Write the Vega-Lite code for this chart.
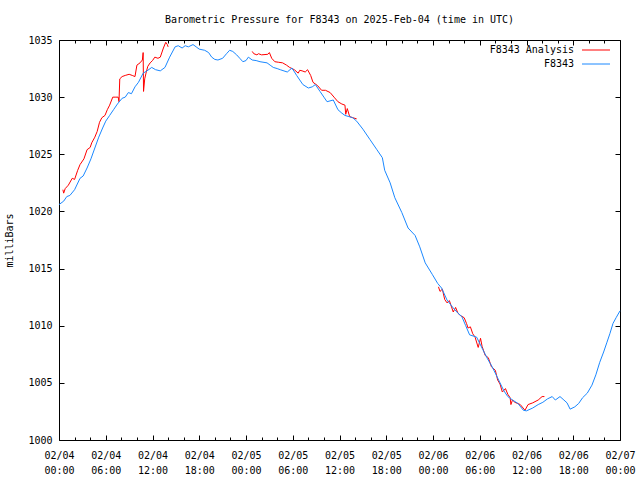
{
"$schema": "https://vega.github.io/schema/vega-lite/v6.json",
"width": 561, "height": 400,
"autosize": "none",
"padding": {"left": 59, "top": 40, "right": 20, "bottom": 40},
"background": "white",
"title": {"text": "Barometric Pressure for F8343 on 2025-Feb-04 (time in UTC)", "font": "DejaVu Sans Mono", "fontSize": 10, "fontWeight": "normal", "color": "black", "offset": 10, "anchor": "middle"},
"config": {
  "view": {"stroke": "black", "strokeWidth": 1},
  "font": "DejaVu Sans Mono",
  "axis": {"domain": false, "grid": false, "labelFont": "DejaVu Sans Mono", "labelFontSize": 10, "labelColor": "black", "tickColor": "black", "titleFont": "DejaVu Sans Mono", "titleFontWeight": "normal", "titleFontSize": 10, "titleColor": "black", "labelFlush": false, "labelOverlap": false},
  "legend": {"labelFont": "DejaVu Sans Mono", "labelFontSize": 10, "labelColor": "black"}
},
"datasets": {
"pts": [
{"s":"F8343","g":"b","h":0,"p":1020.6},{"s":"F8343","g":"b","h":0.6,"p":1020.9},{"s":"F8343","g":"b","h":1.0,"p":1021.3},{"s":"F8343","g":"b","h":1.4,"p":1021.4},{"s":"F8343","g":"b","h":2.0,"p":1021.9},{"s":"F8343","g":"b","h":2.7,"p":1022.9},{"s":"F8343","g":"b","h":3.1,"p":1023.1},{"s":"F8343","g":"b","h":3.6,"p":1023.8},{"s":"F8343","g":"b","h":4.1,"p":1024.6},{"s":"F8343","g":"b","h":4.6,"p":1025.55},{"s":"F8343","g":"b","h":5.1,"p":1026.5},{"s":"F8343","g":"b","h":5.6,"p":1027.3},{"s":"F8343","g":"b","h":6.0,"p":1027.9},{"s":"F8343","g":"b","h":6.5,"p":1028.4},{"s":"F8343","g":"b","h":7.0,"p":1028.9},{"s":"F8343","g":"b","h":7.5,"p":1029.4},{"s":"F8343","g":"b","h":8.1,"p":1029.9},{"s":"F8343","g":"b","h":8.5,"p":1030.0},{"s":"F8343","g":"b","h":8.9,"p":1030.4},{"s":"F8343","g":"b","h":9.3,"p":1030.3},{"s":"F8343","g":"b","h":9.75,"p":1030.9},{"s":"F8343","g":"b","h":10.2,"p":1031.3},{"s":"F8343","g":"b","h":10.8,"p":1032.1},{"s":"F8343","g":"b","h":11.3,"p":1032.3},{"s":"F8343","g":"b","h":11.9,"p":1032.6},{"s":"F8343","g":"b","h":12.4,"p":1032.4},{"s":"F8343","g":"b","h":13.0,"p":1032.3},{"s":"F8343","g":"b","h":13.6,"p":1032.6},{"s":"F8343","g":"b","h":14.2,"p":1033.5},{"s":"F8343","g":"b","h":14.9,"p":1034.4},{"s":"F8343","g":"b","h":15.3,"p":1034.5},{"s":"F8343","g":"b","h":15.8,"p":1034.3},{"s":"F8343","g":"b","h":16.2,"p":1034.5},{"s":"F8343","g":"b","h":16.6,"p":1034.4},{"s":"F8343","g":"b","h":17.2,"p":1034.6},{"s":"F8343","g":"b","h":17.6,"p":1034.4},{"s":"F8343","g":"b","h":18.0,"p":1034.2},{"s":"F8343","g":"b","h":18.7,"p":1034.1},{"s":"F8343","g":"b","h":19.2,"p":1033.9},{"s":"F8343","g":"b","h":19.6,"p":1033.5},{"s":"F8343","g":"b","h":20.0,"p":1033.3},{"s":"F8343","g":"b","h":20.4,"p":1033.25},{"s":"F8343","g":"b","h":21.0,"p":1033.4},{"s":"F8343","g":"b","h":21.5,"p":1033.8},{"s":"F8343","g":"b","h":21.9,"p":1034.1},{"s":"F8343","g":"b","h":22.3,"p":1034.0},{"s":"F8343","g":"b","h":22.8,"p":1033.7},{"s":"F8343","g":"b","h":23.2,"p":1033.4},{"s":"F8343","g":"b","h":23.6,"p":1033.1},{"s":"F8343","g":"b","h":24.0,"p":1033.2},{"s":"F8343","g":"b","h":24.3,"p":1033.5},{"s":"F8343","g":"b","h":24.8,"p":1033.25},{"s":"F8343","g":"b","h":25.3,"p":1033.2},{"s":"F8343","g":"b","h":25.8,"p":1033.1},{"s":"F8343","g":"b","h":26.7,"p":1033.0},{"s":"F8343","g":"b","h":27.1,"p":1032.8},{"s":"F8343","g":"b","h":27.5,"p":1032.6},{"s":"F8343","g":"b","h":28.0,"p":1032.5},{"s":"F8343","g":"b","h":28.4,"p":1032.4},{"s":"F8343","g":"b","h":29.3,"p":1032.2},{"s":"F8343","g":"b","h":29.9,"p":1032.55},{"s":"F8343","g":"b","h":30.5,"p":1031.9},{"s":"F8343","g":"b","h":30.9,"p":1031.5},{"s":"F8343","g":"b","h":31.3,"p":1031.1},{"s":"F8343","g":"b","h":32.0,"p":1030.8},{"s":"F8343","g":"b","h":32.5,"p":1030.9},{"s":"F8343","g":"b","h":32.9,"p":1031.1},{"s":"F8343","g":"b","h":33.5,"p":1030.5},{"s":"F8343","g":"b","h":34.0,"p":1030.0},{"s":"F8343","g":"b","h":34.4,"p":1029.6},{"s":"F8343","g":"b","h":35.2,"p":1029.75},{"s":"F8343","g":"b","h":35.8,"p":1028.9},{"s":"F8343","g":"b","h":36.3,"p":1028.6},{"s":"F8343","g":"b","h":36.7,"p":1028.4},{"s":"F8343","g":"b","h":37.2,"p":1028.3},{"s":"F8343","g":"b","h":37.7,"p":1028.2},{"s":"F8343","g":"b","h":38.2,"p":1027.9},{"s":"F8343","g":"b","h":39.0,"p":1027.2},{"s":"F8343","g":"b","h":39.9,"p":1026.3},{"s":"F8343","g":"b","h":40.8,"p":1025.4},{"s":"F8343","g":"b","h":41.5,"p":1024.7},{"s":"F8343","g":"b","h":41.8,"p":1023.6},{"s":"F8343","g":"b","h":42.5,"p":1022.5},{"s":"F8343","g":"b","h":43.1,"p":1021.2},{"s":"F8343","g":"b","h":44.0,"p":1019.9},{"s":"F8343","g":"b","h":44.8,"p":1018.55},{"s":"F8343","g":"b","h":45.7,"p":1017.9},{"s":"F8343","g":"b","h":46.3,"p":1016.9},{"s":"F8343","g":"b","h":47.0,"p":1015.5},{"s":"F8343","g":"b","h":47.9,"p":1014.5},{"s":"F8343","g":"b","h":48.6,"p":1013.7},{"s":"F8343","g":"b","h":49.1,"p":1013.3},{"s":"F8343","g":"b","h":49.8,"p":1012.25},{"s":"F8343","g":"b","h":50.6,"p":1011.55},{"s":"F8343","g":"b","h":51.2,"p":1011.1},{"s":"F8343","g":"b","h":51.7,"p":1010.8},{"s":"F8343","g":"b","h":52.2,"p":1010.0},{"s":"F8343","g":"b","h":52.7,"p":1009.2},{"s":"F8343","g":"b","h":53.6,"p":1009.0},{"s":"F8343","g":"b","h":54.4,"p":1007.9},{"s":"F8343","g":"b","h":55.0,"p":1007.1},{"s":"F8343","g":"b","h":55.6,"p":1006.4},{"s":"F8343","g":"b","h":56.1,"p":1005.7},{"s":"F8343","g":"b","h":56.6,"p":1005.0},{"s":"F8343","g":"b","h":57.1,"p":1004.3},{"s":"F8343","g":"b","h":57.6,"p":1003.8},{"s":"F8343","g":"b","h":58.2,"p":1003.5},{"s":"F8343","g":"b","h":58.9,"p":1003.2},{"s":"F8343","g":"b","h":59.6,"p":1002.6},{"s":"F8343","g":"b","h":60.0,"p":1002.55},{"s":"F8343","g":"b","h":60.8,"p":1002.8},{"s":"F8343","g":"b","h":61.5,"p":1003.1},{"s":"F8343","g":"b","h":62.1,"p":1003.3},{"s":"F8343","g":"b","h":62.7,"p":1003.6},{"s":"F8343","g":"b","h":63.3,"p":1003.8},{"s":"F8343","g":"b","h":63.7,"p":1003.5},{"s":"F8343","g":"b","h":64.3,"p":1003.8},{"s":"F8343","g":"b","h":64.8,"p":1003.5},{"s":"F8343","g":"b","h":65.2,"p":1003.25},{"s":"F8343","g":"b","h":65.6,"p":1002.7},{"s":"F8343","g":"b","h":66.2,"p":1002.9},{"s":"F8343","g":"b","h":66.7,"p":1003.2},{"s":"F8343","g":"b","h":67.2,"p":1003.7},{"s":"F8343","g":"b","h":67.8,"p":1004.1},{"s":"F8343","g":"b","h":68.4,"p":1004.8},{"s":"F8343","g":"b","h":68.9,"p":1005.7},{"s":"F8343","g":"b","h":69.4,"p":1006.8},{"s":"F8343","g":"b","h":69.9,"p":1007.7},{"s":"F8343","g":"b","h":70.3,"p":1008.5},{"s":"F8343","g":"b","h":70.7,"p":1009.3},{"s":"F8343","g":"b","h":71.1,"p":1010.2},{"s":"F8343","g":"b","h":71.5,"p":1010.7},{"s":"F8343","g":"b","h":72.0,"p":1011.3},
{"s":"F8343 Analysis","g":"r1","h":0.5,"p":1021.9},{"s":"F8343 Analysis","g":"r1","h":0.6,"p":1021.6},{"s":"F8343 Analysis","g":"r1","h":0.8,"p":1022.0},{"s":"F8343 Analysis","g":"r1","h":1.2,"p":1022.3},{"s":"F8343 Analysis","g":"r1","h":1.7,"p":1022.9},{"s":"F8343 Analysis","g":"r1","h":2.0,"p":1022.8},{"s":"F8343 Analysis","g":"r1","h":2.4,"p":1023.6},{"s":"F8343 Analysis","g":"r1","h":2.7,"p":1024.1},{"s":"F8343 Analysis","g":"r1","h":3.2,"p":1024.6},{"s":"F8343 Analysis","g":"r1","h":3.6,"p":1025.4},{"s":"F8343 Analysis","g":"r1","h":4.0,"p":1025.6},{"s":"F8343 Analysis","g":"r1","h":4.2,"p":1026.0},{"s":"F8343 Analysis","g":"r1","h":4.6,"p":1026.5},{"s":"F8343 Analysis","g":"r1","h":4.9,"p":1027.0},{"s":"F8343 Analysis","g":"r1","h":5.2,"p":1027.8},{"s":"F8343 Analysis","g":"r1","h":5.5,"p":1028.2},{"s":"F8343 Analysis","g":"r1","h":5.9,"p":1028.4},{"s":"F8343 Analysis","g":"r1","h":6.2,"p":1028.9},{"s":"F8343 Analysis","g":"r1","h":6.5,"p":1029.3},{"s":"F8343 Analysis","g":"r1","h":6.9,"p":1030.0},{"s":"F8343 Analysis","g":"r1","h":7.3,"p":1030.0},{"s":"F8343 Analysis","g":"r1","h":7.6,"p":1030.0},{"s":"F8343 Analysis","g":"r1","h":7.7,"p":1029.6},{"s":"F8343 Analysis","g":"r1","h":7.8,"p":1031.6},{"s":"F8343 Analysis","g":"r1","h":8.1,"p":1031.8},{"s":"F8343 Analysis","g":"r1","h":8.5,"p":1031.9},{"s":"F8343 Analysis","g":"r1","h":9.0,"p":1032.0},{"s":"F8343 Analysis","g":"r1","h":9.4,"p":1031.9},{"s":"F8343 Analysis","g":"r1","h":9.75,"p":1031.8},{"s":"F8343 Analysis","g":"r1","h":10.0,"p":1032.8},{"s":"F8343 Analysis","g":"r1","h":10.4,"p":1033.0},{"s":"F8343 Analysis","g":"r1","h":10.7,"p":1033.25},{"s":"F8343 Analysis","g":"r1","h":10.8,"p":1033.9},{"s":"F8343 Analysis","g":"r1","h":10.85,"p":1030.5},{"s":"F8343 Analysis","g":"r1","h":11.0,"p":1031.6},{"s":"F8343 Analysis","g":"r1","h":11.2,"p":1032.2},{"s":"F8343 Analysis","g":"r1","h":11.4,"p":1032.7},{"s":"F8343 Analysis","g":"r1","h":11.7,"p":1033.0},{"s":"F8343 Analysis","g":"r1","h":12.0,"p":1033.2},{"s":"F8343 Analysis","g":"r1","h":12.3,"p":1033.5},{"s":"F8343 Analysis","g":"r1","h":12.7,"p":1033.4},{"s":"F8343 Analysis","g":"r1","h":13.0,"p":1033.5},{"s":"F8343 Analysis","g":"r1","h":13.4,"p":1034.3},{"s":"F8343 Analysis","g":"r1","h":13.7,"p":1034.8},{"s":"F8343 Analysis","g":"r1","h":13.9,"p":1034.6},{"s":"F8343 Analysis","g":"r1","h":14.0,"p":1034.4},
{"s":"F8343 Analysis","g":"r2","h":24.8,"p":1034.0},{"s":"F8343 Analysis","g":"r2","h":25.0,"p":1033.8},{"s":"F8343 Analysis","g":"r2","h":25.4,"p":1033.7},{"s":"F8343 Analysis","g":"r2","h":25.6,"p":1033.8},{"s":"F8343 Analysis","g":"r2","h":26.0,"p":1033.7},{"s":"F8343 Analysis","g":"r2","h":26.8,"p":1033.75},{"s":"F8343 Analysis","g":"r2","h":27.0,"p":1033.9},{"s":"F8343 Analysis","g":"r2","h":27.3,"p":1033.4},{"s":"F8343 Analysis","g":"r2","h":27.7,"p":1033.1},{"s":"F8343 Analysis","g":"r2","h":28.2,"p":1033.05},{"s":"F8343 Analysis","g":"r2","h":28.7,"p":1033.0},{"s":"F8343 Analysis","g":"r2","h":29.2,"p":1032.8},{"s":"F8343 Analysis","g":"r2","h":29.6,"p":1032.6},{"s":"F8343 Analysis","g":"r2","h":30.2,"p":1032.4},{"s":"F8343 Analysis","g":"r2","h":30.7,"p":1032.1},{"s":"F8343 Analysis","g":"r2","h":30.9,"p":1032.35},{"s":"F8343 Analysis","g":"r2","h":31.2,"p":1032.3},{"s":"F8343 Analysis","g":"r2","h":31.6,"p":1032.2},{"s":"F8343 Analysis","g":"r2","h":31.9,"p":1032.4},{"s":"F8343 Analysis","g":"r2","h":32.3,"p":1031.9},{"s":"F8343 Analysis","g":"r2","h":32.6,"p":1031.3},{"s":"F8343 Analysis","g":"r2","h":33.2,"p":1031.0},{"s":"F8343 Analysis","g":"r2","h":33.7,"p":1030.6},{"s":"F8343 Analysis","g":"r2","h":34.2,"p":1030.6},{"s":"F8343 Analysis","g":"r2","h":34.8,"p":1030.4},{"s":"F8343 Analysis","g":"r2","h":35.3,"p":1030.0},{"s":"F8343 Analysis","g":"r2","h":35.8,"p":1029.6},{"s":"F8343 Analysis","g":"r2","h":36.3,"p":1029.4},{"s":"F8343 Analysis","g":"r2","h":36.7,"p":1029.3},{"s":"F8343 Analysis","g":"r2","h":36.8,"p":1028.5},{"s":"F8343 Analysis","g":"r2","h":37.0,"p":1029.0},{"s":"F8343 Analysis","g":"r2","h":37.3,"p":1028.3},{"s":"F8343 Analysis","g":"r2","h":37.7,"p":1028.2},{"s":"F8343 Analysis","g":"r2","h":38.2,"p":1028.1},
{"s":"F8343 Analysis","g":"r3","h":48.7,"p":1013.4},{"s":"F8343 Analysis","g":"r3","h":48.9,"p":1013.0},{"s":"F8343 Analysis","g":"r3","h":49.2,"p":1013.2},{"s":"F8343 Analysis","g":"r3","h":49.5,"p":1012.3},{"s":"F8343 Analysis","g":"r3","h":49.8,"p":1012.0},{"s":"F8343 Analysis","g":"r3","h":50.1,"p":1012.2},{"s":"F8343 Analysis","g":"r3","h":50.6,"p":1011.2},{"s":"F8343 Analysis","g":"r3","h":50.9,"p":1011.6},{"s":"F8343 Analysis","g":"r3","h":51.2,"p":1011.1},{"s":"F8343 Analysis","g":"r3","h":51.5,"p":1010.9},{"s":"F8343 Analysis","g":"r3","h":52.0,"p":1010.7},{"s":"F8343 Analysis","g":"r3","h":52.3,"p":1010.2},{"s":"F8343 Analysis","g":"r3","h":52.5,"p":1009.8},{"s":"F8343 Analysis","g":"r3","h":52.8,"p":1009.9},{"s":"F8343 Analysis","g":"r3","h":53.1,"p":1009.3},{"s":"F8343 Analysis","g":"r3","h":53.4,"p":1009.0},{"s":"F8343 Analysis","g":"r3","h":53.8,"p":1008.1},{"s":"F8343 Analysis","g":"r3","h":54.1,"p":1008.9},{"s":"F8343 Analysis","g":"r3","h":54.3,"p":1008.2},{"s":"F8343 Analysis","g":"r3","h":54.7,"p":1007.4},{"s":"F8343 Analysis","g":"r3","h":55.1,"p":1007.2},{"s":"F8343 Analysis","g":"r3","h":55.5,"p":1006.4},{"s":"F8343 Analysis","g":"r3","h":56.0,"p":1006.1},{"s":"F8343 Analysis","g":"r3","h":56.3,"p":1005.25},{"s":"F8343 Analysis","g":"r3","h":56.6,"p":1004.9},{"s":"F8343 Analysis","g":"r3","h":56.9,"p":1004.2},{"s":"F8343 Analysis","g":"r3","h":57.3,"p":1004.5},{"s":"F8343 Analysis","g":"r3","h":57.6,"p":1004.0},{"s":"F8343 Analysis","g":"r3","h":57.9,"p":1003.7},{"s":"F8343 Analysis","g":"r3","h":58.0,"p":1003.1},{"s":"F8343 Analysis","g":"r3","h":58.2,"p":1003.5},{"s":"F8343 Analysis","g":"r3","h":58.5,"p":1003.3},{"s":"F8343 Analysis","g":"r3","h":59.2,"p":1003.1},{"s":"F8343 Analysis","g":"r3","h":59.8,"p":1002.6},{"s":"F8343 Analysis","g":"r3","h":60.2,"p":1003.1},{"s":"F8343 Analysis","g":"r3","h":60.8,"p":1003.25},{"s":"F8343 Analysis","g":"r3","h":61.5,"p":1003.5},{"s":"F8343 Analysis","g":"r3","h":62.0,"p":1003.8},{"s":"F8343 Analysis","g":"r3","h":62.3,"p":1003.8}
]
},
"data": {"name": "pts"},
"layer": [
  {
    "transform": [{"filter": "datum.s == 'F8343 Analysis'"}],
    "mark": {"type": "line", "strokeWidth": 1, "interpolate": "linear"},
    "encoding": {
      "x": {"field": "h", "type": "quantitative", "scale": {"domain": [0, 72], "nice": false, "zero": false},
            "axis": {"orient": "bottom", "values": [0,6,12,18,24,30,36,42,48,54,60,66,72], "tickSize": -5, "labelPadding": 15, "title": null,
                     "labelLineHeight": 15, "labelBaseline": "top",
                     "labelExpr": "['02/0' + (4 + floor(datum.value/24)), (datum.value % 24 < 10 ? '0' : '') + (datum.value % 24) + ':00']"}},
      "y": {"field": "p", "type": "quantitative", "scale": {"domain": [1000, 1035], "nice": false, "zero": false},
            "axis": {"orient": "left", "values": [1000,1005,1010,1015,1020,1025,1030,1035], "format": "d", "tickSize": -5, "labelPadding": 12, "title": "milliBars", "titlePadding": 13}},
      "color": {"field": "s", "type": "nominal", "scale": {"domain": ["F8343 Analysis", "F8343"], "range": ["#ff0000", "#1a88ff"]},
                "legend": {"title": null, "orient": "none", "legendX": 432, "legendY": 5, "symbolType": "M-3.5,0H3.5", "symbolStrokeWidth": 1, "symbolSize": 64,
                           "symbolOffset": 100, "labelAlign": "right", "labelOffset": -27, "rowPadding": 4, "padding": 0}},
      "detail": {"field": "g"}
    }
  },
  {
    "transform": [{"filter": "datum.s == 'F8343'"}],
    "mark": {"type": "line", "strokeWidth": 1, "interpolate": "linear"},
    "encoding": {
      "x": {"field": "h", "type": "quantitative", "axis": null},
      "y": {"field": "p", "type": "quantitative", "axis": null},
      "color": {"field": "s", "type": "nominal"},
      "detail": {"field": "g"}
    }
  },
  {
    "mark": {"type": "point", "opacity": 0},
    "encoding": {
      "x": {"field": "h", "type": "quantitative", "axis": {"orient": "bottom", "values": [2,4,8,10,14,16,20,22,26,28,32,34,38,40,44,46,50,52,56,58,62,64,68,70], "tickSize": -3, "labels": false, "title": null}},
      "y": {"field": "p", "type": "quantitative", "axis": {"orient": "right", "values": [1000,1005,1010,1015,1020,1025,1030,1035], "tickSize": -5, "labels": false, "title": null}}
    }
  },
  {
    "mark": {"type": "point", "opacity": 0},
    "encoding": {
      "x": {"field": "h", "type": "quantitative", "axis": {"orient": "top", "values": [0,6,12,18,24,30,36,42,48,54,60,66,72], "tickSize": -5, "labels": false, "title": null}},
      "y": {"field": "p", "type": "quantitative", "axis": null}
    }
  },
  {
    "mark": {"type": "point", "opacity": 0},
    "encoding": {
      "x": {"field": "h", "type": "quantitative", "axis": {"orient": "top", "values": [2,4,8,10,14,16,20,22,26,28,32,34,38,40,44,46,50,52,56,58,62,64,68,70], "tickSize": -3, "labels": false, "title": null}},
      "y": {"field": "p", "type": "quantitative", "axis": null}
    }
  }
],
"resolve": {"axis": {"x": "independent", "y": "independent"}}
}
